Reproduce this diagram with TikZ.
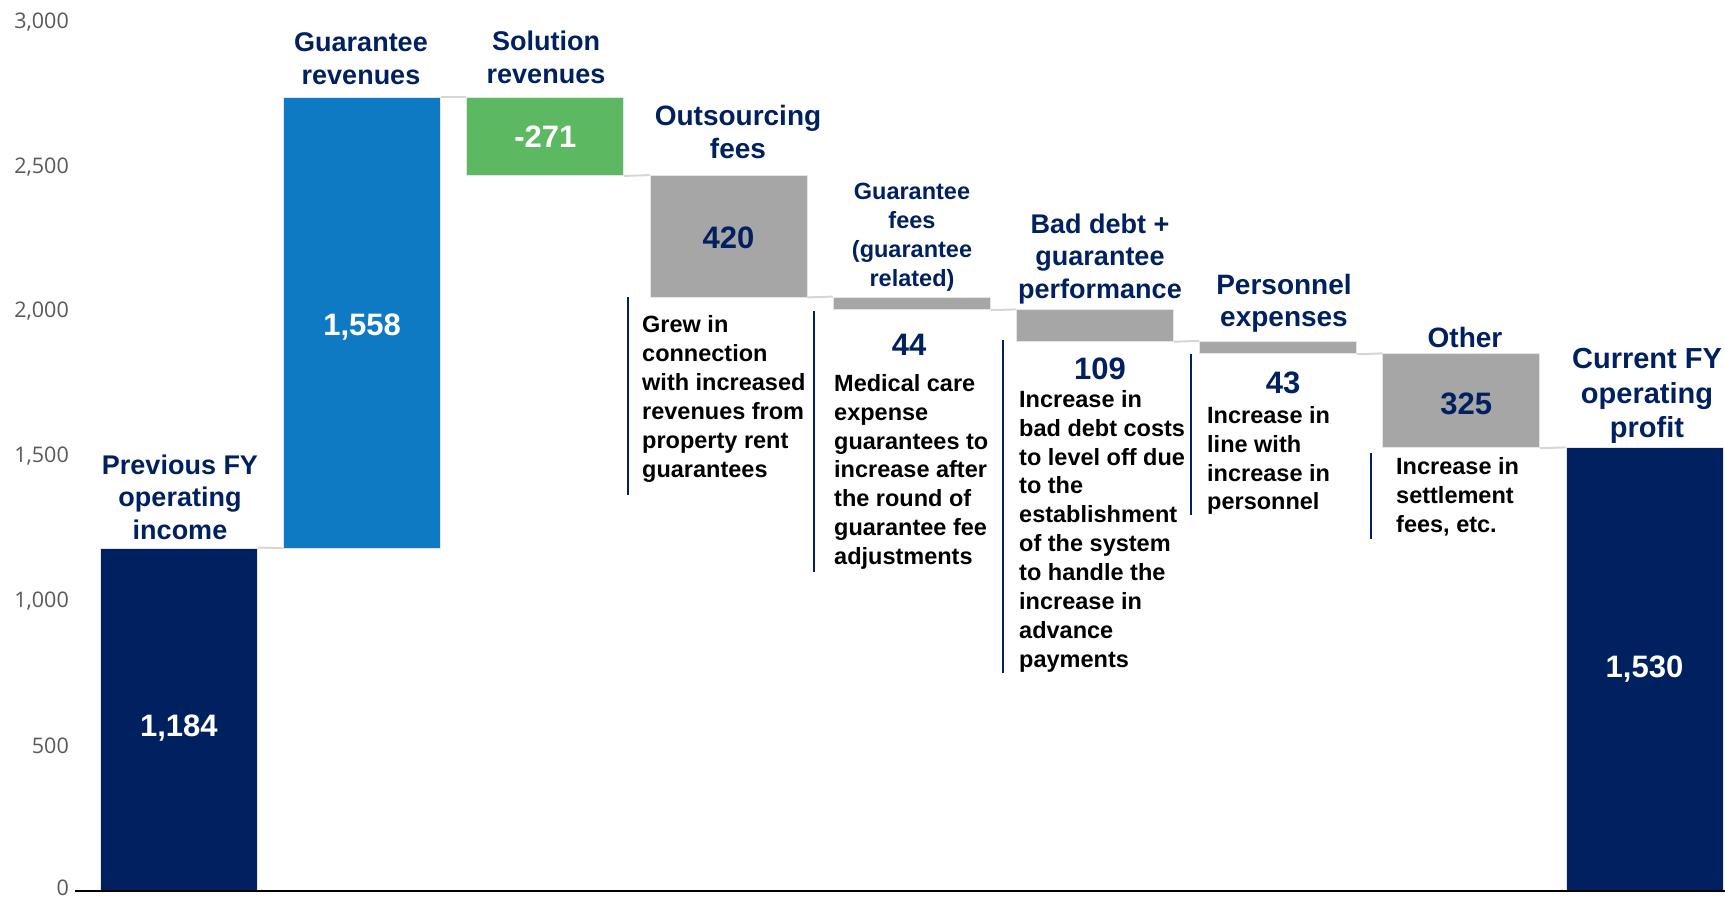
\documentclass[tikz,border=0pt]{standalone}
\usepackage{fontspec}
\setmainfont{Liberation Sans}
\newfontfamily\axisfont{Open Sans}
\definecolor{cnavy}{RGB}{0,32,96}
\definecolor{cblue}{RGB}{15,122,196}
\definecolor{cgreen}{RGB}{93,185,97}
\definecolor{cgray}{RGB}{166,166,166}
\begin{document}
\begin{tikzpicture}[x=1pt,y=-1pt,
  bar/.style={draw=black!10, line width=0.8pt, inner sep=0pt, minimum width=157pt, anchor=north west},
  conn/.style={draw=black!16, line width=2pt},
  hdr/.style={text=cnavy, align=center, inner sep=0pt, font=\fontsize{27}{32.5}\selectfont\bfseries},
  num/.style={text=cnavy, inner sep=0pt, font=\fontsize{31}{31}\selectfont\bfseries},
  wnum/.style={num, text=white},
  note/.style={text=black, align=left, inner sep=0pt, anchor=north west, font=\fontsize{23.5}{28.9}\selectfont\bfseries},
  vline/.style={draw=cnavy, line width=1.8pt},
  ylab/.style={text=black!65, anchor=east, inner sep=0pt, font=\axisfont\fontsize{21.5}{21.5}\selectfont}]
\useasboundingbox (0,0) rectangle (1725,898);

% y axis labels
\node[ylab] (y0) at (69,888) {0};
\node[ylab] (y1) at (69,745.4) {500};
\node[ylab] (y2) at (69,600.7) {1,000};
\node[ylab] (y3) at (69,456.1) {1,500};
\node[ylab] (y4) at (69,311.4) {2,000};
\node[ylab] (y5) at (69,166.8) {2,500};
\node[ylab] (y6) at (69,22.1) {3,000};

% bars
\node[bar, fill=cnavy, minimum height=342.5pt] (b1) at (100,547.5) {};
\node[bar, fill=cblue, minimum height=450.8pt] (b2) at (283.2,96.7) {};
\node[bar, fill=cgreen, minimum height=78.4pt] (b3) at (466.4,96.7) {};
\node[bar, fill=cgray, minimum height=121.5pt] (b4) at (649.6,175.1) {};
\node[bar, fill=cgray, minimum height=12.8pt] (b5) at (832.8,296.6) {};
\node[bar, fill=cgray, minimum height=31.5pt] (b6) at (1016,309.4) {};
\node[bar, fill=cgray, minimum height=12.5pt] (b7) at (1199.2,340.9) {};
\node[bar, fill=cgray, minimum height=94pt] (b8) at (1382.4,353.4) {};
\node[bar, fill=cnavy, minimum height=442.6pt] (b9) at (1565.6,447.4) {};

% values inside bars
\node[wnum] (t1) at ([yshift=-8.5pt]b1.center) {1,184};
\node[wnum] (t2) at ([yshift=-4.5pt]b2.center) {1,558};
\node[wnum] (t3) at (b3.center) {-271};
\node[num] (t4) at ([yshift=-2pt]b4.center) {420};
\node[num] (t8) at ([xshift=5pt,yshift=-3pt]b8.center) {325};
\node[wnum] (t9) at (b9.center) {1,530};

% connectors
\draw[conn] (b1.north east) -- (b2.south west);
\draw[conn] (b2.north east) -- (b3.north west);
\draw[conn] (b3.south east) -- (b4.north west);
\draw[conn] (b4.south east) -- (b5.north west);
\draw[conn] (b5.south east) -- (b6.north west);
\draw[conn] (b6.south east) -- (b7.north west);
\draw[conn] (b7.south east) -- (b8.north west);
\draw[conn] (b8.south east) -- (b9.north west);

% x axis
\draw[line width=2pt, black] (75,891) -- (1725,891);

% headers
\node[hdr] (h1) at (180,497) {Previous FY\\operating\\income};
\node[hdr] (h2) at (361,58.5) {Guarantee\\revenues};
\node[hdr] (h3) at (546,57.5) {Solution\\revenues};
\node[hdr, font=\fontsize{28}{33}\selectfont\bfseries] (h4) at (738,132) {Outsourcing\\fees};
\node[hdr, font=\fontsize{23.5}{29}\selectfont\bfseries] (h5) at (912,237) {Guarantee\\fees\\(guarantee\\related)};
\node[hdr] (h6) at (1100,259) {Bad debt +\\guarantee\\performance};
\node[hdr, font=\fontsize{28}{31.5}\selectfont\bfseries] (h7) at (1284,303.5) {Personnel\\expenses};
\node[hdr, font=\fontsize{28}{33}\selectfont\bfseries] (h8) at (1465,337) {Other};
\node[hdr, font=\fontsize{29}{34.5}\selectfont\bfseries] (h9) at (1647,396) {Current FY\\operating\\profit};

% navy numbers below thin bars
\node[num] (v5) at (909,345) {44};
\node[num] (v6) at (1100,368.5) {109};
\node[num] (v7) at (1283,383) {43};

% notes
\node[note] (n1) at (642,315.5) {Grew in\\connection\\with increased\\revenues from\\property rent\\guarantees};
\node[note] (n2) at (834,374) {Medical care\\expense\\guarantees to\\increase after\\the round of\\guarantee fee\\adjustments};
\node[note] (n3) at (1019,390) {Increase in\\bad debt costs\\to level off due\\to the\\establishment\\of the system\\to handle the\\increase in\\advance\\payments};
\node[note] (n4) at (1207,406) {Increase in\\line with\\increase in\\personnel};
\node[note] (n5) at (1396,457.5) {Increase in\\settlement\\fees, etc.};

% vertical marker lines
\draw[vline] (628,297) -- (628,495);
\draw[vline] (814,311) -- (814,572);
\draw[vline] (1003,340) -- (1003,673);
\draw[vline] (1191,354) -- (1191,515);
\draw[vline] (1371,453) -- (1371,539);
\end{tikzpicture}
\end{document}
